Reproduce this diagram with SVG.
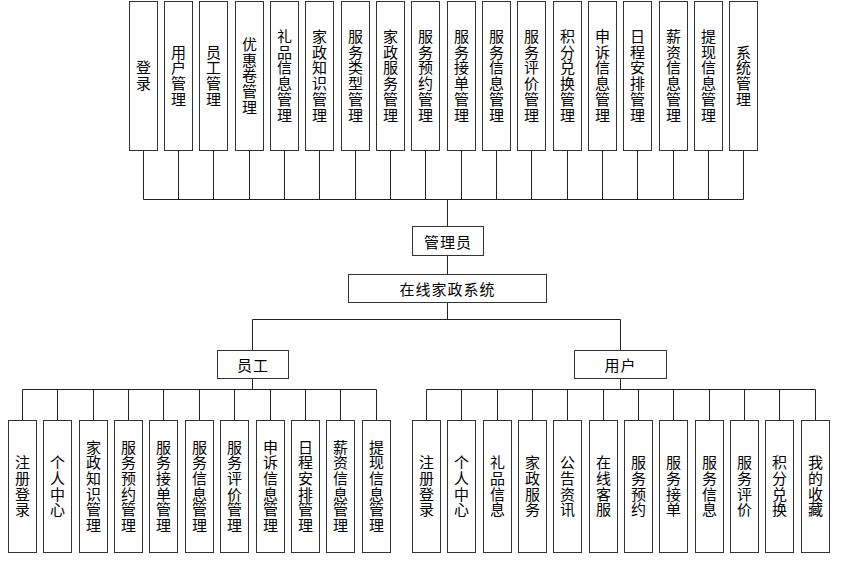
<svg xmlns="http://www.w3.org/2000/svg" width="841" height="563" viewBox="0 0 841 563">
<style>
.b{fill:#fff;stroke:#333;stroke-width:1}
.c{fill:none;stroke:#222;stroke-width:1}
text{font-family:"Noto Sans CJK SC","Noto Sans",sans-serif;font-size:15px;fill:#000}
.v{writing-mode:vertical-rl;text-anchor:middle;letter-spacing:0.7px}
.h{text-anchor:middle;dominant-baseline:central;letter-spacing:1px}
</style>
<rect width="841" height="563" fill="#fff"/>
<g id="connectors" class="c">
<path d="M143.5 150.5V199.5M178.5 150.5V199.5M213.5 150.5V199.5M249.5 150.5V199.5M284.5 150.5V199.5M319.5 150.5V199.5M355.5 150.5V199.5M390.5 150.5V199.5M425.5 150.5V199.5M461.5 150.5V199.5M496.5 150.5V199.5M531.5 150.5V199.5M567.5 150.5V199.5M602.5 150.5V199.5M637.5 150.5V199.5M673.5 150.5V199.5M708.5 150.5V199.5M743.5 150.5V199.5"/>
<path d="M143.5 199.5H743.5M447.5 199.5V226.5M447.5 255.5V274.5M447.5 302.5V319.5M252.5 319.5H620.5M252.5 319.5V350.5M620.5 319.5V350.5"/>
<path d="M252.5 378.5V389.5M22.5 389.5H376.5M22.5 389.5V420.5M57.5 389.5V420.5M93.5 389.5V420.5M128.5 389.5V420.5M163.5 389.5V420.5M199.5 389.5V420.5M234.5 389.5V420.5M270.5 389.5V420.5M305.5 389.5V420.5M340.5 389.5V420.5M376.5 389.5V420.5"/>
<path d="M620.5 378.5V389.5M426.5 389.5H815.5M426.5 389.5V420.5M461.5 389.5V420.5M497.5 389.5V420.5M532.5 389.5V420.5M567.5 389.5V420.5M603.5 389.5V420.5M638.5 389.5V420.5M673.5 389.5V420.5M709.5 389.5V420.5M744.5 389.5V420.5M779.5 389.5V420.5M815.5 389.5V420.5"/>
</g>
<g id="admin"><rect class="b" x="412.5" y="226.5" width="71" height="29"/><text class="h" x="448" y="241">管理员</text></g>
<g id="system"><rect class="b" x="348.5" y="274.5" width="198" height="28"/><text class="h" x="447.5" y="288.5">在线家政系统</text></g>
<g id="staff"><rect class="b" x="217.5" y="350.5" width="71" height="28"/><text class="h" x="253" y="364.5">员工</text></g>
<g id="user"><rect class="b" x="574.5" y="350.5" width="92" height="28"/><text class="h" x="620.5" y="364.5">用户</text></g>
<g id="a1"><rect class="b" x="129.5" y="1.5" width="28" height="149"/><text class="v" x="143.5" y="76">登录</text></g>
<g id="a2"><rect class="b" x="164.5" y="1.5" width="28" height="149"/><text class="v" x="178.5" y="76">用户管理</text></g>
<g id="a3"><rect class="b" x="199.5" y="1.5" width="28" height="149"/><text class="v" x="213.5" y="76">员工管理</text></g>
<g id="a4"><rect class="b" x="235.5" y="1.5" width="28" height="149"/><text class="v" x="249.5" y="76">优惠卷管理</text></g>
<g id="a5"><rect class="b" x="270.5" y="1.5" width="28" height="149"/><text class="v" x="284.5" y="76">礼品信息管理</text></g>
<g id="a6"><rect class="b" x="305.5" y="1.5" width="28" height="149"/><text class="v" x="319.5" y="76">家政知识管理</text></g>
<g id="a7"><rect class="b" x="341.5" y="1.5" width="28" height="149"/><text class="v" x="355.5" y="76">服务类型管理</text></g>
<g id="a8"><rect class="b" x="376.5" y="1.5" width="28" height="149"/><text class="v" x="390.5" y="76">家政服务管理</text></g>
<g id="a9"><rect class="b" x="411.5" y="1.5" width="28" height="149"/><text class="v" x="425.5" y="76">服务预约管理</text></g>
<g id="a10"><rect class="b" x="447.5" y="1.5" width="28" height="149"/><text class="v" x="461.5" y="76">服务接单管理</text></g>
<g id="a11"><rect class="b" x="482.5" y="1.5" width="28" height="149"/><text class="v" x="496.5" y="76">服务信息管理</text></g>
<g id="a12"><rect class="b" x="517.5" y="1.5" width="28" height="149"/><text class="v" x="531.5" y="76">服务评价管理</text></g>
<g id="a13"><rect class="b" x="553.5" y="1.5" width="28" height="149"/><text class="v" x="567.5" y="76">积分兑换管理</text></g>
<g id="a14"><rect class="b" x="588.5" y="1.5" width="28" height="149"/><text class="v" x="602.5" y="76">申诉信息管理</text></g>
<g id="a15"><rect class="b" x="623.5" y="1.5" width="28" height="149"/><text class="v" x="637.5" y="76">日程安排管理</text></g>
<g id="a16"><rect class="b" x="659.5" y="1.5" width="28" height="149"/><text class="v" x="673.5" y="76">薪资信息管理</text></g>
<g id="a17"><rect class="b" x="694.5" y="1.5" width="28" height="149"/><text class="v" x="708.5" y="76">提现信息管理</text></g>
<g id="a18"><rect class="b" x="729.5" y="1.5" width="28" height="149"/><text class="v" x="743.5" y="76">系统管理</text></g>
<g id="s1"><rect class="b" x="8.5" y="420.5" width="28" height="132"/><text class="v" x="22.5" y="486.5">注册登录</text></g>
<g id="s2"><rect class="b" x="43.5" y="420.5" width="28" height="132"/><text class="v" x="57.5" y="486.5">个人中心</text></g>
<g id="s3"><rect class="b" x="79.5" y="420.5" width="28" height="132"/><text class="v" x="93.5" y="486.5">家政知识管理</text></g>
<g id="s4"><rect class="b" x="114.5" y="420.5" width="28" height="132"/><text class="v" x="128.5" y="486.5">服务预约管理</text></g>
<g id="s5"><rect class="b" x="149.5" y="420.5" width="28" height="132"/><text class="v" x="163.5" y="486.5">服务接单管理</text></g>
<g id="s6"><rect class="b" x="185.5" y="420.5" width="28" height="132"/><text class="v" x="199.5" y="486.5">服务信息管理</text></g>
<g id="s7"><rect class="b" x="220.5" y="420.5" width="28" height="132"/><text class="v" x="234.5" y="486.5">服务评价管理</text></g>
<g id="s8"><rect class="b" x="256.5" y="420.5" width="28" height="132"/><text class="v" x="270.5" y="486.5">申诉信息管理</text></g>
<g id="s9"><rect class="b" x="291.5" y="420.5" width="28" height="132"/><text class="v" x="305.5" y="486.5">日程安排管理</text></g>
<g id="s10"><rect class="b" x="326.5" y="420.5" width="28" height="132"/><text class="v" x="340.5" y="486.5">薪资信息管理</text></g>
<g id="s11"><rect class="b" x="362.5" y="420.5" width="28" height="132"/><text class="v" x="376.5" y="486.5">提现信息管理</text></g>
<g id="u1"><rect class="b" x="412.5" y="420.5" width="28" height="132"/><text class="v" x="426.5" y="486.5">注册登录</text></g>
<g id="u2"><rect class="b" x="447.5" y="420.5" width="28" height="132"/><text class="v" x="461.5" y="486.5">个人中心</text></g>
<g id="u3"><rect class="b" x="483.5" y="420.5" width="28" height="132"/><text class="v" x="497.5" y="486.5">礼品信息</text></g>
<g id="u4"><rect class="b" x="518.5" y="420.5" width="28" height="132"/><text class="v" x="532.5" y="486.5">家政服务</text></g>
<g id="u5"><rect class="b" x="553.5" y="420.5" width="28" height="132"/><text class="v" x="567.5" y="486.5">公告资讯</text></g>
<g id="u6"><rect class="b" x="589.5" y="420.5" width="28" height="132"/><text class="v" x="603.5" y="486.5">在线客服</text></g>
<g id="u7"><rect class="b" x="624.5" y="420.5" width="28" height="132"/><text class="v" x="638.5" y="486.5">服务预约</text></g>
<g id="u8"><rect class="b" x="659.5" y="420.5" width="28" height="132"/><text class="v" x="673.5" y="486.5">服务接单</text></g>
<g id="u9"><rect class="b" x="695.5" y="420.5" width="28" height="132"/><text class="v" x="709.5" y="486.5">服务信息</text></g>
<g id="u10"><rect class="b" x="730.5" y="420.5" width="28" height="132"/><text class="v" x="744.5" y="486.5">服务评价</text></g>
<g id="u11"><rect class="b" x="765.5" y="420.5" width="28" height="132"/><text class="v" x="779.5" y="486.5">积分兑换</text></g>
<g id="u12"><rect class="b" x="801.5" y="420.5" width="28" height="132"/><text class="v" x="815.5" y="486.5">我的收藏</text></g>
</svg>
